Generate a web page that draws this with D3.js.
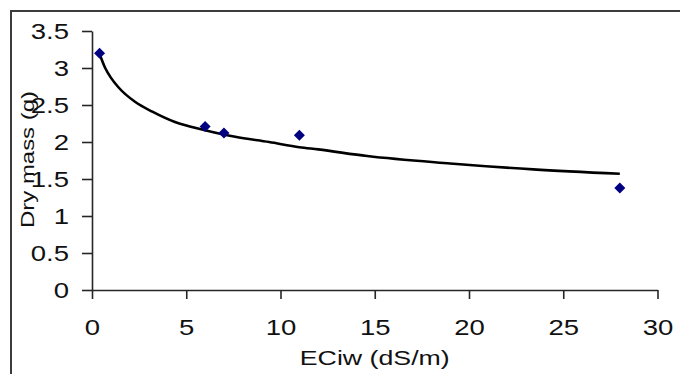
<!DOCTYPE html>
<html><head><meta charset="utf-8">
<script src="https://cdn.jsdelivr.net/npm/d3@7"></script>
<style>
html,body{margin:0;padding:0;background:#fff;overflow:hidden}
svg{display:block;font-family:"Liberation Sans",Arial,sans-serif}
</style></head>
<body><svg id="c" width="680" height="374"></svg>
<script>
// Observed data (ECiw, dry mass)
const ecValues = [0.4, 6, 7, 11, 28];
const dryMass = [3.2, 2.21, 2.12, 2.09, 1.38];
// Trendline
const trendX = [0.42, 0.7, 1.0, 1.4, 2.3, 3.2, 4.4, 6, 7.6, 9.4, 11, 12, 14.6, 19, 23.4, 28];
const trendY = [3.18, 3.0, 2.87, 2.74, 2.54, 2.41, 2.27, 2.16, 2.07, 2.0, 1.93, 1.9, 1.81, 1.71, 1.63, 1.57];
const xTicks = [0, 5, 10, 15, 20, 25, 30];
const yTicks = [0, 0.5, 1, 1.5, 2, 2.5, 3, 3.5];
const xTitle = "ECiw (dS/m)";
const yTitle = "Dry mass (g)";

const svg = d3.select("#c");
const L = 92, R = 657.5, T = 31, B = 290;
const sx = 1.25, fs = 22;

svg.append("rect").attr("x", 11).attr("y", 11).attr("width", 700).attr("height", 400)
  .attr("fill", "none").attr("stroke", "#3c3c3c").attr("stroke-width", 2);

const x = d3.scaleLinear().domain([0, 30]).range([L, R]);
const y = d3.scaleLinear().domain([0, 3.5]).range([B, T]);

const gx = svg.append("g").attr("transform", `translate(0,${B})`)
  .call(d3.axisBottom(x).tickValues(xTicks).tickSize(9).tickSizeOuter(0).tickPadding(20).tickFormat(d => String(d)));
const gy = svg.append("g").attr("transform", `translate(${L},0)`)
  .call(d3.axisLeft(y).tickValues(yTicks).tickSize(10).tickSizeOuter(0).tickFormat(d => String(d)));

[gx, gy].forEach(g => {
  g.select(".domain").attr("stroke", "#262626").attr("stroke-width", 1.6);
  g.selectAll(".tick line").attr("stroke", "#262626").attr("stroke-width", 1.6);
  g.selectAll(".tick text").attr("fill", "#111").attr("font-size", fs)
    .attr("font-family", "Liberation Sans, Arial, sans-serif");
});
gx.selectAll(".tick text").attr("transform", `scale(${sx},1)`);
gy.selectAll(".tick text").attr("x", -23 / sx).attr("transform", `scale(${sx},1)`);

// trendline
const line = d3.line().x(d => x(d[0])).y(d => y(d[1])).curve(d3.curveMonotoneX);
svg.append("path").datum(trendX.map((v, i) => [v, trendY[i]]))
  .attr("d", line).attr("fill", "none").attr("stroke", "#000").attr("stroke-width", 2.6);

// markers
svg.append("g").selectAll("path").data(ecValues.map((v, i) => [v, dryMass[i]])).join("path")
  .attr("transform", d => `translate(${x(d[0])},${y(d[1])})`)
  .attr("d", "M0,-5.5L5.5,0L0,5.5L-5.5,0Z").attr("fill", "#000080");

// titles
svg.append("text").attr("x", (L + R) / 2).attr("y", 365).attr("text-anchor", "middle")
  .attr("font-size", 21).attr("fill", "#111").attr("textLength", 150).attr("lengthAdjust", "spacingAndGlyphs")
  .text(xTitle);
svg.append("text").attr("transform", `translate(34,${(T + B) / 2 - 1}) rotate(-90)`).attr("text-anchor", "middle")
  .attr("font-size", 19).attr("fill", "#111").attr("textLength", 137).attr("lengthAdjust", "spacingAndGlyphs")
  .text(yTitle);
</script></body></html>
